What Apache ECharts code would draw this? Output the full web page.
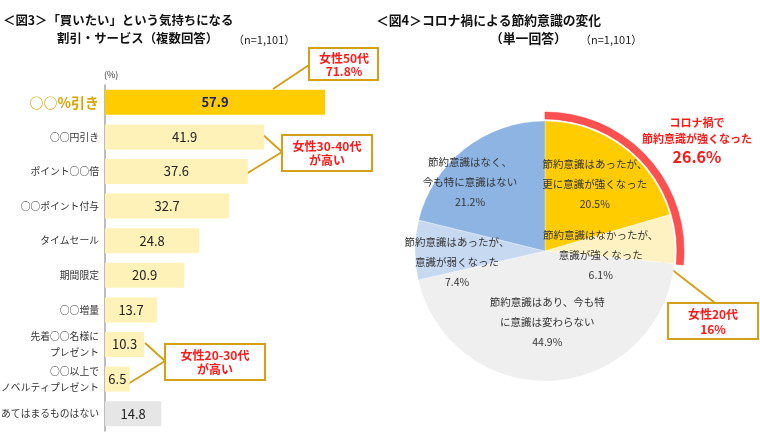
<!DOCTYPE html>
<html><head><meta charset="utf-8">
<script src="https://cdn.jsdelivr.net/npm/echarts@6/dist/echarts.min.js"></script>
<style>html,body{margin:0;padding:0;background:#fff}#c{width:760px;height:441px}</style>
</head><body><div id="c"></div>
<script>
// ---- data ----
var barCategories = ['○○%引き','○○円引き','ポイント○○倍','○○ポイント付与','タイムセール','期間限定','○○増量','先着○○名様に\nプレゼント','○○以上で\nノベルティプレゼント','あてはまるものはない'];
var barValues = [57.9, 41.9, 37.6, 32.7, 24.8, 20.9, 13.7, 10.3, 6.5, 14.8];
var pieNames = ['節約意識はあったが、\n更に意識が強くなった','節約意識はなかったが、\n意識が強くなった','節約意識はあり、今も特\nに意識は変わらない','節約意識はあったが、\n意識が弱くなった','節約意識はなく、\n今も特に意識はない'];
var pieValues = [20.5, 6.1, 44.9, 7.4, 21.2];
var ringValue = 26.6;

// ---- styles / layout ----
var FONT = '"Noto Sans CJK JP", sans-serif';
var barColors = ['#FFCC00','#FFF2B8','#FFF2B8','#FFF2B8','#FFF2B8','#FFF2B8','#FFF2B8','#FFF2B8','#FFF2B8','#E6E6E6'];
var pieColors = ['#FFCC00','#FFF2C2','#EFEFEF','#C6D9F1','#8EB4E3'];
var pieLabelOffsets = [[9,-13],[-12,10],[-2,3],[-20,12],[-33,-15]];
var GOLD = '#D4A017', RED = '#FF1A1A';

function txt(t, x, y, size, color, weight, align){
  return {type:'text', style:{text:t, x:x, y:y, font:(weight||'normal')+' '+size+'px '+FONT, fill:color||'#000', textAlign:align||'left', textVerticalAlign:'middle'}};
}
function box(x,y,w,h){ return {type:'rect', shape:{x:x,y:y,width:w,height:h}, style:{fill:'#fff', stroke:GOLD, lineWidth:2}}; }
function line(x1,y1,x2,y2){ return {type:'line', shape:{x1:x1,y1:y1,x2:x2,y2:y2}, style:{stroke:GOLD, lineWidth:2}}; }

var chart = echarts.init(document.getElementById('c'), null, {renderer:'canvas'});
chart.setOption({
  animation:false,
  textStyle:{fontFamily:FONT},
  grid:{left:105, top:85, width:380, height:346, containLabel:false, outerBoundsMode:'none'},
  xAxis:{type:'value', min:0, max:100, show:false},
  yAxis:{type:'category', inverse:true, data:barCategories,
    axisLine:{show:true, lineStyle:{color:'#A6A6A6', width:1.5}}, axisTick:{show:false},
    axisLabel:{margin:6, color:'#333', fontSize:9.8, lineHeight:16, fontFamily:FONT,
      formatter:function(v, i){ return i===0 ? '{hl|'+v+'}' : v; },
      rich:{hl:{color:'#D9A400', fontSize:14, fontWeight:'bold', fontFamily:FONT}}}},
  series:[
    {type:'bar', barWidth:25, z:2,
     data:barValues.map(function(v,i){ return {value:v, itemStyle:{color:barColors[i]},
        label: i===0 ? {color:'#1F2060', fontWeight:'bold'} : {}}; }),
     label:{show:true, position:'inside', color:'#222', fontSize:13, fontFamily:FONT,
        formatter:function(p){ return p.value.toFixed(1); }}},
    {type:'pie', center:[545,251], radius:[0,130], startAngle:90, clockwise:true,
     data:pieValues.map(function(v,i){ return {name:pieNames[i], value:v, itemStyle:{color:pieColors[i]}}; }),
     itemStyle:{borderColor:'rgba(255,255,255,0.6)', borderWidth:0.5},
     label:{show:true, position:'inside', color:'#333', fontSize:10.5, lineHeight:20, fontFamily:FONT,
        formatter:function(p){ return p.name + '\n' + p.value.toFixed(1) + '%'; }},
     labelLine:{show:false},
     labelLayout:function(p){ var o = pieLabelOffsets[p.dataIndex]; return {dx:o[0], dy:o[1]}; },
     emphasis:{disabled:true}},
    {type:'pie', center:[545,251], radius:[132,139], startAngle:90, clockwise:true, silent:true,
     label:{show:false}, labelLine:{show:false},
     data:[{value:ringValue, itemStyle:{color:'#FF5050', borderColor:'#F03030', borderWidth:0.5}},
           {value:100-ringValue, itemStyle:{color:'rgba(0,0,0,0)'}}]}
  ],
  graphic:[
    txt('＜図3＞「買いたい」という気持ちになる', 3, 20, 12.4, '#111', 'bold'),
    txt('割引・サービス（複数回答）', 57, 38, 12.4, '#111', 'bold'),
    txt('（n=1,101）', 233, 40, 11, '#222'),
    txt('(%)', 104, 75, 9, '#333'),
    txt('＜図4＞コロナ禍による節約意識の変化', 376, 20, 12.8, '#111', 'bold'),
    txt('（単一回答）', 490, 38, 12.8, '#111', 'bold'),
    txt('（n=1,101）', 580, 40, 11, '#222'),
    // callout 50代
    line(273,89,309,65), box(309,48,69,32),
    txt('女性50代', 344, 58, 12, RED, 'bold', 'center'),
    txt('71.8%', 344, 71, 12, RED, 'bold', 'center'),
    // callout 30-40代
    line(262,134,282,152), line(246,174,282,152), box(282,135,90,36),
    txt('女性30-40代', 327, 146, 12, RED, 'bold', 'center'),
    txt('が高い', 327, 160, 12, RED, 'bold', 'center'),
    // callout 20-30代
    line(145,343,165,361), line(128,384,165,361), box(165,344,100,36),
    txt('女性20-30代', 215, 355, 12, RED, 'bold', 'center'),
    txt('が高い', 215, 369, 12, RED, 'bold', 'center'),
    // right callouts
    txt('コロナ禍で', 697, 123, 11, RED, 'bold', 'center'),
    txt('節約意識が強くなった', 697, 139, 11, RED, 'bold', 'center'),
    txt('26.6%', 697, 157, 16, RED, 'bold', 'center'),
    line(657,258,715,303), box(668,303,90,36),
    txt('女性20代', 713, 314, 12, RED, 'bold', 'center'),
    txt('16%', 713, 329, 12, RED, 'bold', 'center')
  ]
});
</script></body></html>
